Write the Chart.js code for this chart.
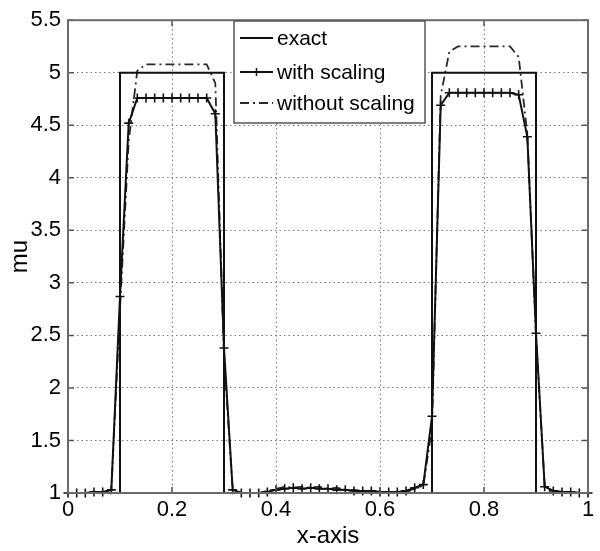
<!DOCTYPE html>
<html>
<head>
<meta charset="utf-8">
<script src="https://cdn.jsdelivr.net/npm/chart.js@4.4.1/dist/chart.umd.min.js"></script>
<style>
  html, body { margin: 0; padding: 0; background: #fff; }
  #wrap { width: 600px; height: 551px; }
</style>
</head>
<body>
<div id="wrap"><canvas id="mu_chart" width="600" height="551"></canvas></div>
<script>
// grid points (h = 1/60)
const xGrid = [0, 0.0167, 0.0333, 0.05, 0.0667, 0.0833, 0.1, 0.1167, 0.1333, 0.15,
  0.1667, 0.1833, 0.2, 0.2167, 0.2333, 0.25, 0.2667, 0.2833, 0.3, 0.3167,
  0.3333, 0.35, 0.3667, 0.3833, 0.4, 0.4167, 0.4333, 0.45, 0.4667, 0.4833,
  0.5, 0.5167, 0.5333, 0.55, 0.5667, 0.5833, 0.6, 0.6167, 0.6333, 0.65,
  0.6667, 0.6833, 0.7, 0.7167, 0.7333, 0.75, 0.7667, 0.7833, 0.8, 0.8167,
  0.8333, 0.85, 0.8667, 0.8833, 0.9, 0.9167, 0.9333, 0.95, 0.9667, 0.9833, 1];

const withScaling = [1.0, 1.0, 1.0, 1.01, 1.01, 1.03, 2.87, 4.52, 4.76, 4.76,
  4.76, 4.76, 4.76, 4.76, 4.76, 4.76, 4.76, 4.61, 2.38, 1.03,
  1.0, 1.0, 1.0, 1.01, 1.03, 1.04, 1.05, 1.04, 1.05, 1.04,
  1.04, 1.03, 1.03, 1.02, 1.02, 1.02, 1.01, 1.01, 1.01, 1.02,
  1.05, 1.08, 1.73, 4.69, 4.81, 4.81, 4.81, 4.81, 4.81, 4.81,
  4.81, 4.81, 4.79, 4.39, 2.52, 1.06, 1.02, 1.01, 1.01, 1.0, 1.0];

const withoutScaling = [1.0, 1.0, 1.0, 1.01, 1.01, 1.03, 2.75, 4.35, 5.02, 5.08,
  5.08, 5.08, 5.08, 5.08, 5.08, 5.08, 5.08, 4.9, 2.3, 1.03,
  1.0, 1.0, 1.0, 1.02, 1.04, 1.06, 1.05, 1.06, 1.05, 1.06,
  1.04, 1.05, 1.03, 1.03, 1.02, 1.02, 1.01, 1.01, 1.01, 1.02,
  1.04, 1.07, 1.62, 4.78, 5.2, 5.25, 5.25, 5.25, 5.25, 5.25,
  5.25, 5.25, 5.15, 4.42, 2.5, 1.06, 1.02, 1.01, 1.01, 1.0, 1.0];

const exactX = [0, 0.1, 0.1, 0.3, 0.3, 0.7, 0.7, 0.9, 0.9, 1];
const exactY = [1, 1, 5, 5, 1, 1, 5, 5, 1, 1];

const xTicks = [0, 0.2, 0.4, 0.6, 0.8, 1];
const yTicks = [1, 1.5, 2, 2.5, 3, 3.5, 4, 4.5, 5, 5.5];

const seriesNames = ['exact', 'with scaling', 'without scaling'];

const FONT = 'Liberation Sans, Arial, sans-serif';
const toPts = (xs, ys) => xs.map((x, i) => ({ x: x, y: ys[i] }));

// box around the axes + inward tick marks (matlab style)
const framePlugin = {
  id: 'frame',
  afterDatasetsDraw(chart) {
    const { ctx, chartArea: a, scales } = chart;
    ctx.save();
    ctx.strokeStyle = '#555';
    ctx.lineWidth = 1.5;
    ctx.beginPath();
    xTicks.forEach(v => {
      const px = scales.x.getPixelForValue(v);
      ctx.moveTo(px, a.bottom); ctx.lineTo(px, a.bottom - 6);
      ctx.moveTo(px, a.top); ctx.lineTo(px, a.top + 6);
    });
    yTicks.forEach(v => {
      const py = scales.y.getPixelForValue(v);
      ctx.moveTo(a.left, py); ctx.lineTo(a.left + 6, py);
      ctx.moveTo(a.right, py); ctx.lineTo(a.right - 6, py);
    });
    ctx.stroke();
    ctx.strokeStyle = '#6a6a6a';
    ctx.lineWidth = 2;
    ctx.strokeRect(a.left, a.top, a.right - a.left, a.bottom - a.top);
    ctx.restore();
  }
};

// legend box inside the plot, top middle
const legendPlugin = {
  id: 'boxLegend',
  afterDraw(chart) {
    const ctx = chart.ctx;
    const bx = 234, by = 21, bw = 191, bh = 102;
    ctx.save();
    ctx.fillStyle = '#fff';
    ctx.fillRect(bx, by, bw, bh);
    ctx.strokeStyle = '#555';
    ctx.lineWidth = 1.5;
    ctx.strokeRect(bx, by, bw, bh);
    const rows = [38, 72, 103];
    chart.data.datasets.forEach((ds, i) => {
      const y = rows[i];
      ctx.strokeStyle = ds.borderColor;
      ctx.lineWidth = ds.borderWidth;
      ctx.setLineDash(ds.borderDash || []);
      ctx.beginPath();
      ctx.moveTo(240, y); ctx.lineTo(273, y);
      ctx.stroke();
      ctx.setLineDash([]);
      if (ds.pointRadius > 0) {
        ctx.lineWidth = 1.5;
        ctx.beginPath();
        ctx.moveTo(256.5, y - 4); ctx.lineTo(256.5, y + 4);
        ctx.moveTo(252.5, y); ctx.lineTo(260.5, y);
        ctx.stroke();
      }
      ctx.fillStyle = '#000';
      ctx.font = '21px ' + FONT;
      ctx.textBaseline = 'middle';
      ctx.fillText(ds.label, 277, y + 1);
    });
    ctx.restore();
  }
};

new Chart(document.getElementById('mu_chart'), {
  type: 'scatter',
  data: {
    datasets: [
      {
        label: seriesNames[0],
        data: toPts(exactX, exactY),
        showLine: true,
        borderColor: '#111',
        borderWidth: 2,
        pointRadius: 0
      },
      {
        label: seriesNames[1],
        data: toPts(xGrid, withScaling),
        showLine: true,
        clip: 6,
        borderColor: '#111',
        borderWidth: 2,
        pointStyle: 'cross',
        pointRadius: 4.5,
        pointBorderWidth: 1.6,
        pointBorderColor: '#111'
      },
      {
        label: seriesNames[2],
        data: toPts(xGrid, withoutScaling),
        showLine: true,
        clip: 3,
        borderColor: '#2a2a2a',
        borderWidth: 1.8,
        borderDash: [9, 4, 2, 4],
        pointRadius: 0
      }
    ]
  },
  options: {
    responsive: false,
    animation: false,
    layout: { padding: { top: 16, right: 12, left: 0, bottom: 0 } },
    plugins: {
      legend: { display: false },
      tooltip: { enabled: false }
    },
    scales: {
      x: {
        type: 'linear',
        min: 0,
        max: 1,
        afterBuildTicks: s => { s.ticks = xTicks.map(v => ({ value: v })); },
        afterFit: s => { s.height = 58; },
        grid: { color: '#7a7a7a', lineWidth: 1, drawTicks: false },
        border: { display: false, dash: [1.5, 3] },
        ticks: {
          font: { family: FONT, size: 22 },
          color: '#000',
          padding: 4,
          maxRotation: 0,
          callback: v => String(v)
        },
        title: {
          display: true,
          text: 'x-axis',
          font: { family: FONT, size: 24 },
          color: '#000',
          padding: { top: 0, bottom: 0 }
        }
      },
      y: {
        type: 'linear',
        min: 1,
        max: 5.5,
        afterBuildTicks: s => { s.ticks = yTicks.map(v => ({ value: v })); },
        afterFit: s => { s.width = 68; },
        grid: { color: '#7a7a7a', lineWidth: 1, drawTicks: false },
        border: { display: false, dash: [1.5, 3] },
        ticks: {
          font: { family: FONT, size: 22 },
          color: '#000',
          padding: 7,
          callback: v => String(v)
        },
        title: {
          display: true,
          text: 'mu',
          font: { family: FONT, size: 24 },
          color: '#000',
          padding: { top: 6, bottom: 0 }
        }
      }
    }
  },
  plugins: [framePlugin, legendPlugin]
});
</script>
</body>
</html>
